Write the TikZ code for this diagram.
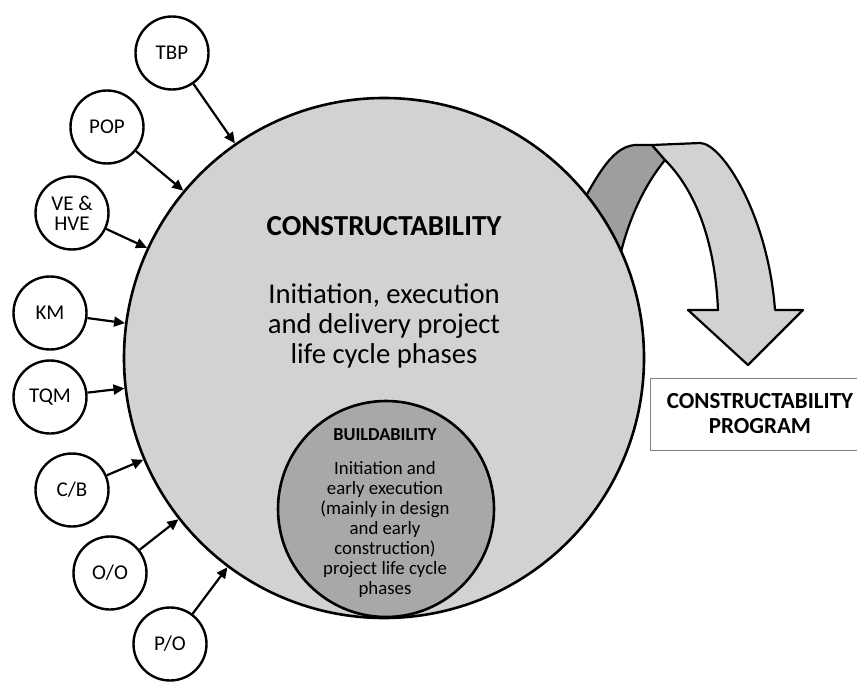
\documentclass[tikz,border=0pt]{standalone}
\usepackage{fontspec}
\setmainfont{Carlito}
\usetikzlibrary{arrows.meta}
\definecolor{circfill}{RGB}{210,210,210}
\definecolor{innerfill}{RGB}{168,168,168}
\definecolor{bandfill}{RGB}{158,158,158}
\begin{document}
\begin{tikzpicture}[x=1pt, y=-1pt,
                    factor/.style={circle, draw, line width=2.4pt, fill=white,
                      minimum size=73pt, inner sep=0pt, align=center,
                      font=\fontsize{21}{20}\selectfont},
                    feed/.style={-{Triangle[length=11pt,width=10pt]}, line width=2.2pt},
                    band/.style={draw, line width=2.2pt, line join=round}]
  \useasboundingbox (0,0) rectangle (857,682);
  \draw[band, fill=bandfill] (570,225) .. controls (595,180) and (610,147) .. (635,145)
    -- (652,145) -- (665,160) .. controls (643,187) and (625,225) .. (616,275)
    -- (590,250) -- cycle;
  \draw[band, fill=circfill] (652,145) -- (700,143) .. controls (722,143) and (768,215) .. (775,310)
    -- (803,310) -- (748,365) -- (688,310) -- (718,310)
    .. controls (715,240) and (695,190) .. (665,160) -- cycle;
  \node[circle, draw, line width=2.6pt, fill=circfill, minimum size=520pt, inner sep=0pt] (main) at (384,358) {};
  \node[circle, draw, line width=2.6pt, fill=innerfill, minimum size=216pt, inner sep=0pt] (build) at (386,509) {};
  \node[font=\fontsize{29}{30}\selectfont\bfseries, anchor=base] (ctitle) at (384,235) {CONSTRUCTABILITY};
  \node[font=\fontsize{28.7}{30}\selectfont, align=center] (cphase) at (384,326)
    {Initiation, execution\\and delivery project\\life cycle phases};
  \node[font=\fontsize{18.3}{20}\selectfont\bfseries, anchor=base] (btitle) at (385,440) {BUILDABILITY};
  \node[font=\fontsize{18.8}{20}\selectfont, align=center] (bphase) at (385,529)
    {Initiation and\\early execution\\(mainly in design\\and early\\construction)\\project life cycle\\phases};
  \node[factor] (tbp) at (172,53) {TBP};
  \node[factor] (pop) at (107,127) {POP};
  \node[factor] (ve) at (72,213) {VE \&\\HVE};
  \node[factor] (km) at (50,313) {KM};
  \node[factor] (tqm) at (50,397) {TQM};
  \node[factor] (cb) at (72,490) {C/B};
  \node[factor] (oo) at (110,573) {O/O};
  \node[factor] (po) at (170,644) {P/O};
  \foreach \f in {tbp,pop,ve,km,tqm,cb,oo,po}
    \draw[feed] (\f) -- (main);
  \node[draw=gray, line width=1pt, minimum width=220pt, minimum height=72pt, align=center,
        font=\fontsize{23}{25}\selectfont\bfseries] (prog) at (760,414) {CONSTRUCTABILITY\\PROGRAM};
\end{tikzpicture}
\end{document}
